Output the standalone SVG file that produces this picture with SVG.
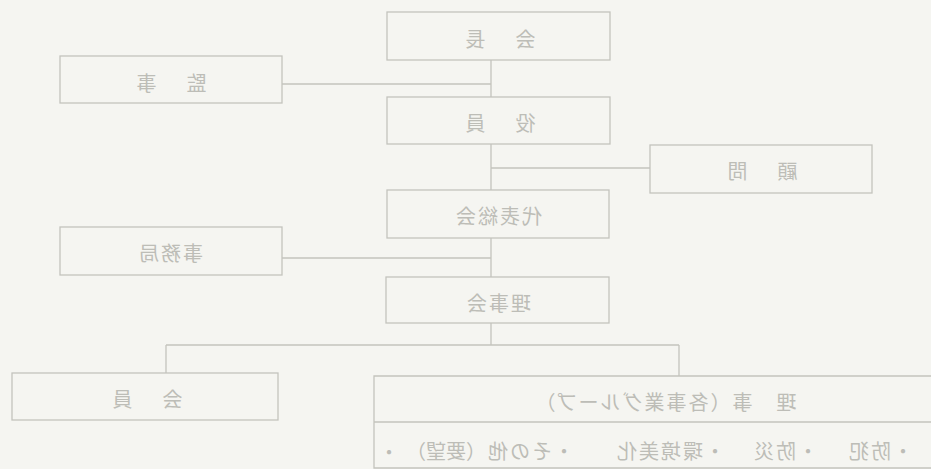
<svg xmlns="http://www.w3.org/2000/svg" width="931" height="469" viewBox="0 0 931 469">
<style>
.bg{fill:#f5f5f1}
.box{fill:none;stroke:#c3c3bd;stroke-width:1.3}
.ln{fill:none;stroke:#c3c3bd;stroke-width:1.3}
.t{font-family:"Noto Sans CJK JP","Noto Sans CJK SC",sans-serif;font-size:20px;fill:#bdbdb7;text-anchor:middle;dominant-baseline:central}
.w{letter-spacing:5px}
.n{letter-spacing:2px}
</style>
<rect class="bg" x="0" y="0" width="931" height="469"/>
<g id="connectors">
<path class="ln" d="M491 60V97M282 84H491M491 144V190M491 168H650M491 238V277M282 258H491M491 323V345M166 345H679M166 345V373M679 345V376"/>
</g>
<g id="kaicho"><rect class="box" x="387" y="12" width="223" height="48"/><text class="t w" x="-498" y="38" transform="scale(-1,1)">会　長</text></g>
<g id="kanji"><rect class="box" x="60" y="56" width="222" height="47"/><text class="t w" x="-169" y="82" transform="scale(-1,1)">監　事</text></g>
<g id="yakuin"><rect class="box" x="387" y="97" width="223" height="47"/><text class="t w" x="-498" y="122" transform="scale(-1,1)">役　員</text></g>
<g id="komon"><rect class="box" x="650" y="145" width="222" height="48"/><text class="t w" x="-760" y="170" transform="scale(-1,1)">顧　問</text></g>
<g id="daihyo"><rect class="box" x="387" y="190" width="222" height="48"/><text class="t n" x="-498" y="215" transform="scale(-1,1)">代表総会</text></g>
<g id="jimukyoku"><rect class="box" x="60" y="227" width="222" height="48"/><text class="t n" x="-170" y="252" transform="scale(-1,1)">事務局</text></g>
<g id="rijikai"><rect class="box" x="386" y="277" width="223" height="46"/><text class="t n" x="-498" y="302" transform="scale(-1,1)">理事会</text></g>
<g id="kaiin"><rect class="box" x="12" y="373" width="266" height="47"/><text class="t w" x="-145" y="398" transform="scale(-1,1)">会　員</text></g>
<g id="riji">
<path class="box" d="M940 376H374V468H940M374 422H940"/>
<text class="t n" x="-665" y="401" transform="scale(-1,1)">理　事（各事業グループ）</text>
<text class="t n" x="-880" y="450" transform="scale(-1,1)">・防犯</text>
<text class="t n" x="-785" y="450" transform="scale(-1,1)">・防災</text>
<text class="t n" x="-670" y="450" transform="scale(-1,1)">・環境美化</text>
<text class="t n" x="-530" y="450" transform="scale(-1,1)">・その他</text>
<text class="t" x="-446" y="450" transform="scale(-1,1)">（要望）</text>
<text class="t" x="-389" y="451" transform="scale(-1,1)">・</text>
</g>
</svg>
